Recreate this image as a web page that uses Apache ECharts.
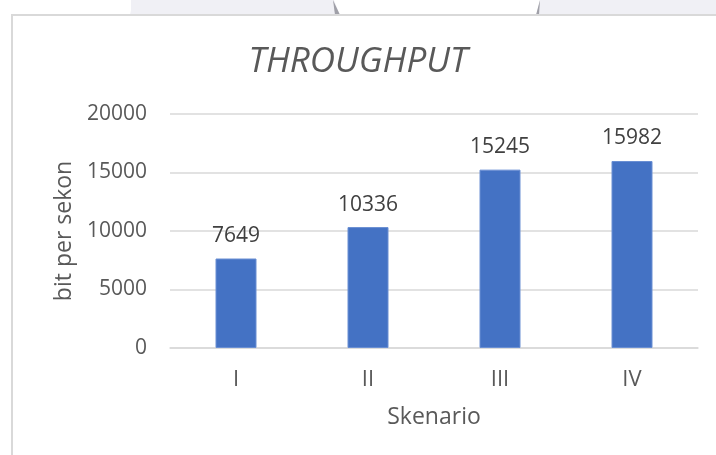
<!DOCTYPE html>
<html>
<head>
<meta charset="utf-8">
<script src="https://cdn.jsdelivr.net/npm/echarts@6/dist/echarts.min.js"></script>
<style>
  html, body { margin: 0; padding: 0; background: #fff; }
  #chart { width: 716px; height: 455px; }
</style>
</head>
<body>
<div id="chart"></div>
<script>
const categories = ['I', 'II', 'III', 'IV']
const throughput = [7649, 10336, 15245, 15982]
const yTicks = { min: 0, max: 20000, interval: 5000 }

const textColor = '#595959'
const gridColor = '#d9d9d9'
const font = '"Open Sans", "Noto Sans", sans-serif'

const chart = echarts.init(document.getElementById('chart'))

chart.setOption({
  animation: false,
  textStyle: { fontFamily: font },
  title: {
    text: 'THROUGHPUT',
    left: 'center',
    top: 40,
    textStyle: {
      fontFamily: font,
      fontSize: 35,
      fontStyle: 'italic',
      fontWeight: 'normal',
      color: textColor
    }
  },
  // page background bits above the chart frame
  graphic: [
    { type: 'rect', shape: { x: 130, y: 0, width: 586, height: 15 }, style: { fill: '#f0f0f5' }, silent: true },
    { type: 'polygon', shape: { points: [[128, 0], [131, 15], [131, 0]] }, style: { fill: '#ffffff' }, silent: true },
    { type: 'polygon', shape: { points: [[334, 0], [340, 15], [536, 15], [540, 0]] }, style: { fill: '#ffffff' }, silent: true },
    { type: 'polygon', shape: { points: [[333, 0], [335, 15], [340, 15]] }, style: { fill: '#a0a0a8' }, silent: true },
    { type: 'polygon', shape: { points: [[540, 0], [536, 15], [539, 15]] }, style: { fill: '#a0a0a8' }, silent: true },
    { type: 'polyline', shape: { points: [[12, 460], [12, 15], [720, 15]] }, style: { stroke: '#d9d9d9', lineWidth: 2, fill: null }, silent: true }
  ],
  grid: { left: 170, right: 18, top: 114, bottom: 107 },
  xAxis: {
    type: 'category',
    data: categories,
    name: 'Skenario',
    nameLocation: 'middle',
    nameGap: 58,
    nameTextStyle: { fontSize: 23, color: textColor },
    axisLine: { lineStyle: { color: gridColor, width: 1.5 } },
    axisTick: { show: false },
    axisLabel: { fontSize: 22, color: textColor, margin: 21 }
  },
  yAxis: {
    type: 'value',
    min: yTicks.min,
    max: yTicks.max,
    interval: yTicks.interval,
    name: 'bit per sekon',
    nameLocation: 'middle',
    nameGap: 92,
    nameTextStyle: { fontSize: 23, color: textColor },
    axisLine: { show: false },
    axisTick: { show: false },
    axisLabel: { fontSize: 21, color: textColor, margin: 23, formatter: v => String(v) },
    splitLine: { lineStyle: { color: gridColor, width: 1.5 } }
  },
  series: [
    {
      type: 'bar',
      data: throughput,
      barWidth: 41,
      itemStyle: { color: '#4472c4', borderColor: '#6a8fd3', borderWidth: 1 },
      label: {
        show: true,
        position: 'top',
        distance: 12,
        fontSize: 21,
        color: '#404040'
      }
    }
  ]
})
</script>
</body>
</html>
